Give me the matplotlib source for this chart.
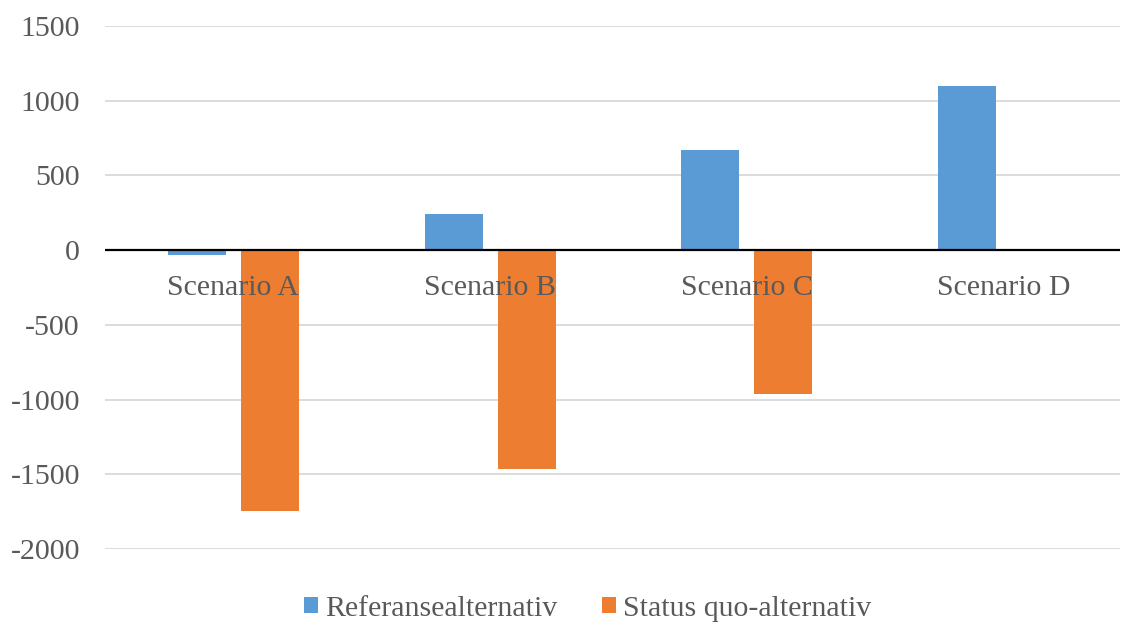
import numpy as np
import matplotlib
matplotlib.use("Agg")
from matplotlib import pyplot as plt

categories = ["Scenario A", "Scenario B", "Scenario C", "Scenario D"]
referanse = [-30, 240, 670, 1100]
status_quo = [-1745, -1465, -960, 8]
series_names = ["Referansealternativ", "Status quo-alternativ"]
yticks = [-2000, -1500, -1000, -500, 0, 500, 1000, 1500]

plt.rcParams['font.family'] = ['Liberation Serif', 'DejaVu Serif']
text_col = '#595959'
fs = 21.5

fig = plt.figure(figsize=(11.22, 6.27), dpi=100)
ax = fig.add_axes([105/1122, 1 - 549/627, 1015/1122, 523/627])

x = np.arange(len(categories))
w = 0.226
off = 0.142
ax.bar(x - off, referanse, w, color='#5b9bd5', label=series_names[0], zorder=3)
ax.bar(x + off, status_quo, w, color='#ed7d31', label=series_names[1], zorder=3)

ax.set_xlim(-0.5, len(categories) - 0.5 - 0.047)
ax.set_ylim(-2000, 1500)
ax.set_yticks(yticks)
ax.set_yticklabels([str(v) for v in yticks], fontsize=fs, color=text_col)
ax.tick_params(axis='y', length=0, pad=18)
ax.set_xticks([])
ax.grid(axis='y', color='#d9d9d9', linewidth=1.3, zorder=0)
for s in ax.spines.values():
    s.set_visible(False)
ax.axhline(0, color='black', linewidth=1.6, zorder=4)

for i, c in enumerate(categories):
    ax.annotate(c, xy=(i, 0), xytext=(0, -25), textcoords='offset pixels',
                ha='center', va='top', fontsize=fs, color=text_col, zorder=5)

fig.legend(loc='center', bbox_to_anchor=(0.524, 1 - 609/627), ncol=2, frameon=False,
           fontsize=fs, labelcolor=text_col, handlelength=0.45, handleheight=0.45,
           handletextpad=0.25, columnspacing=1.5)

fig.savefig("out.png", dpi=100)
